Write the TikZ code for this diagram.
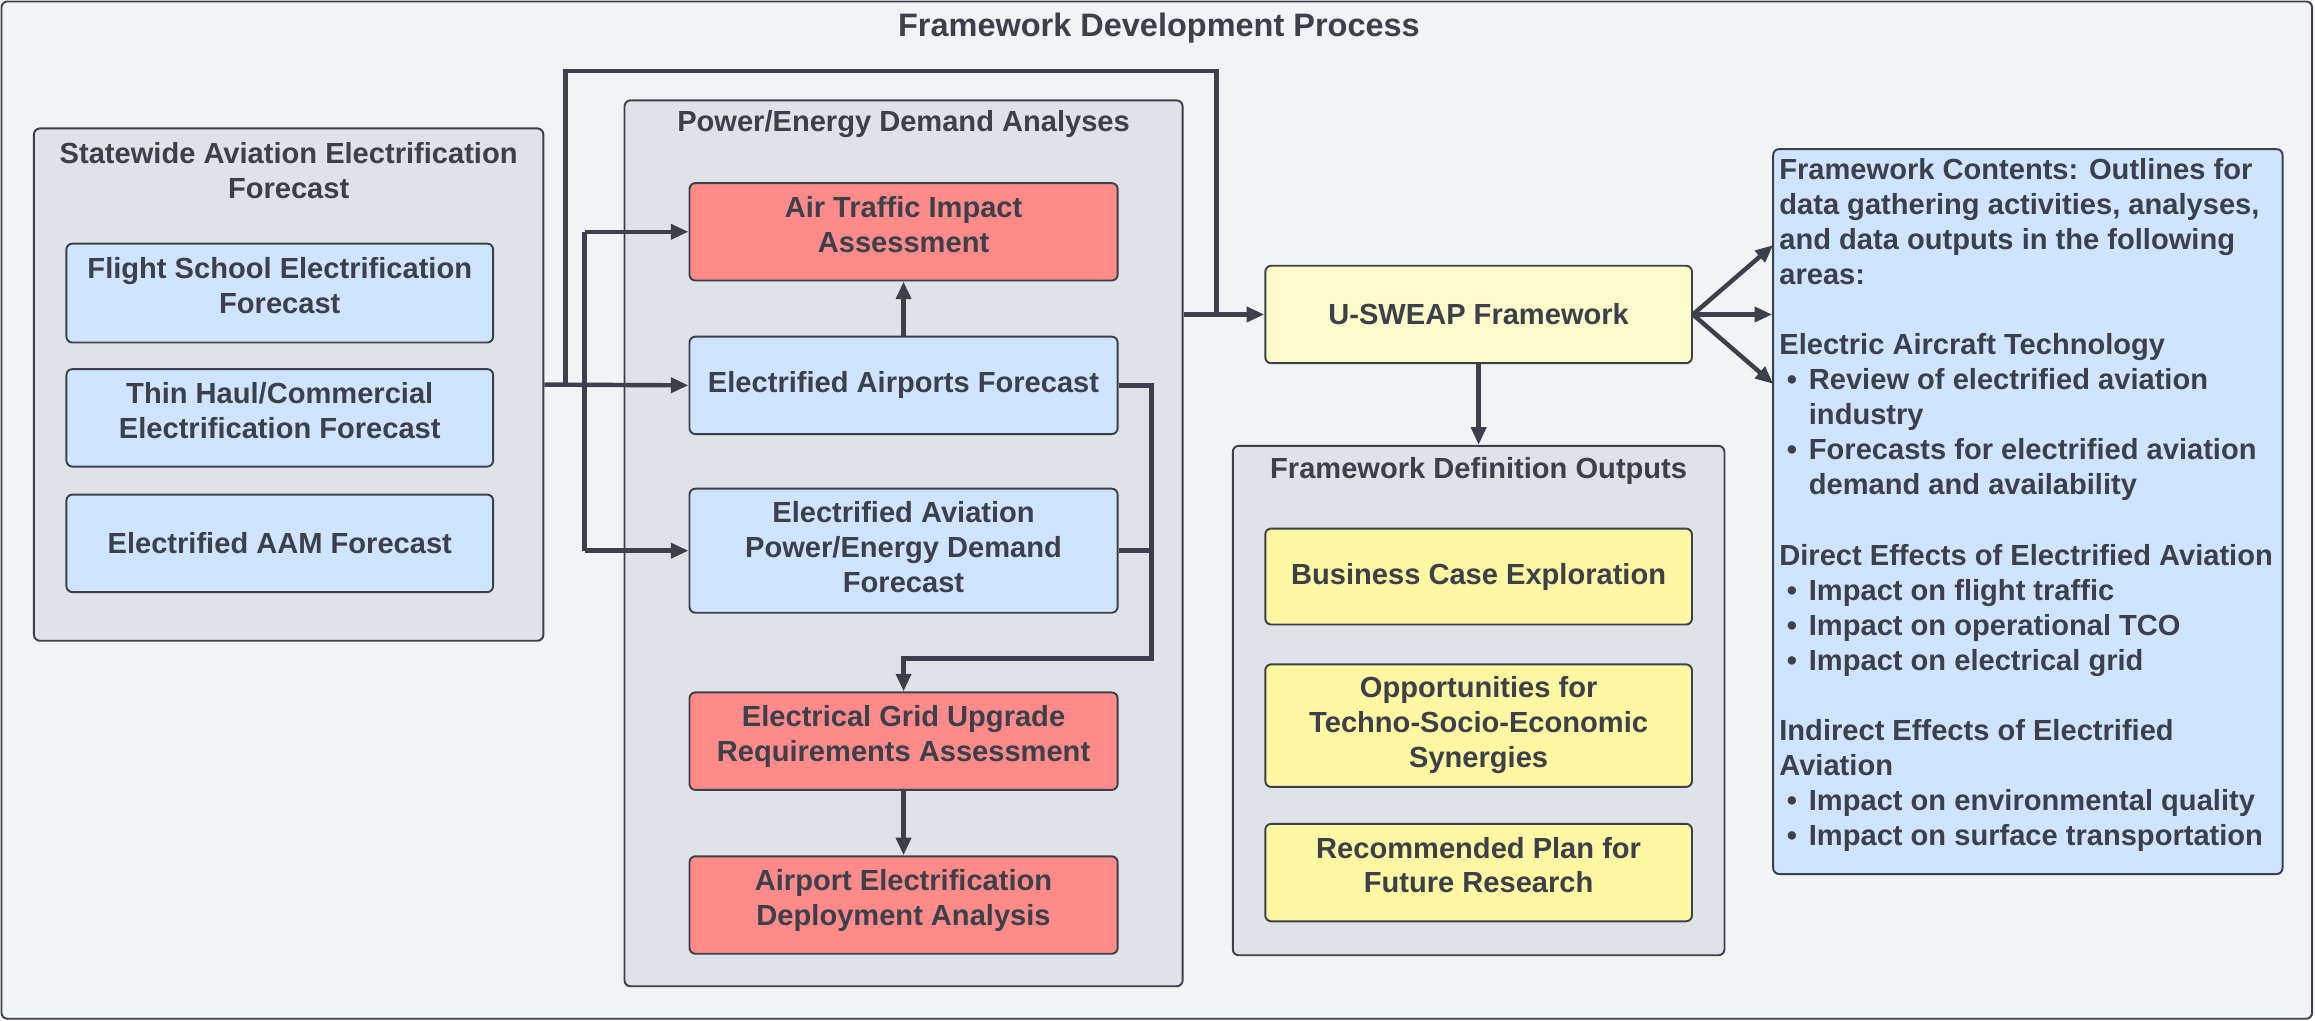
\documentclass[tikz,border=0pt]{standalone}
\usepackage{fontspec}
\setmainfont{Liberation Sans}
\usetikzlibrary{arrows.meta}
\definecolor{bgc}{HTML}{F2F3F5}
\definecolor{grpc}{HTML}{DFE2E6}
\definecolor{bluec}{HTML}{CFE4FF}
\definecolor{redc}{HTML}{FF8A8A}
\definecolor{ylightc}{HTML}{FDFBCA}
\definecolor{yellowc}{HTML}{FFF7A1}
\definecolor{strk}{HTML}{3B404A}
\newcommand{\myb}[1]{\hspace*{5pt}\makebox[15pt][l]{\textbullet}#1}
\newcommand{\myc}[1]{\hspace*{20pt}#1}
\begin{document}
\begin{tikzpicture}[x=1pt,y=-1pt,
  txtfont/.style={font={\fontsize{19.7pt}{23.6pt}\selectfont\bfseries}, text=strk},
  box/.style={draw=strk, line width=1.3pt, rounded corners=4pt, minimum width=290pt,
    minimum height=66pt, inner sep=0pt, align=center, txtfont},
  twoline/.style={text height=38pt, text depth=10.4pt},
  threeline/.style={text height=61.5pt, text depth=5.3pt},
  bluebox/.style={box, fill=bluec},
  redbox/.style={box, fill=redc},
  ybox/.style={box, fill=yellowc},
  group/.style={draw=strk, line width=1.3pt, rounded corners=4pt, fill=grpc, inner sep=0pt},
  gtitle/.style={txtfont, align=center, inner sep=0pt},
  conn/.style={draw=strk, line width=3pt},
  arr/.style={conn, -{Triangle[length=12pt,width=10pt]}}
]
\useasboundingbox (0,0) rectangle (1568,691.5);
\node[draw=strk, line width=1.3pt, rounded corners=4pt, fill=bgc, minimum width=1565pt, minimum height=689pt, inner sep=0pt] (outer) at (783.5,345.5) {};
\node[gtitle, font={\fontsize{22pt}{26pt}\selectfont\bfseries}] (title) at (785,19) {Framework Development Process};

% left group
\node[group, minimum width=345pt, minimum height=347pt] (g1) at (195.5,260.5) {};
\node[gtitle] (g1t) at (195.5,115.5) {Statewide Aviation Electrification\\Forecast};
\node[bluebox, twoline, minimum width=289pt, minimum height=67pt] (fsf) at (189.5,198.5) {Flight School Electrification\\Forecast};
\node[bluebox, twoline, minimum width=289pt] (thc) at (189.5,283) {Thin Haul/Commercial\\Electrification Forecast};
\node[bluebox, minimum width=289pt] (aam) at (189.5,368) {Electrified AAM Forecast};

% middle group
\node[group, minimum width=378pt, minimum height=600pt] (g2) at (612,368) {};
\node[gtitle] (g2t) at (612,84) {Power/Energy Demand Analyses};
\node[redbox, twoline] (ati) at (612,157) {Air Traffic Impact\\Assessment};
\node[bluebox] (eaf) at (612,261) {Electrified Airports Forecast};
\node[bluebox, threeline, minimum height=84pt] (pedf) at (612,373) {Electrified Aviation\\Power/Energy Demand\\Forecast};
\node[redbox, twoline] (egu) at (612,502) {Electrical Grid Upgrade\\Requirements Assessment};
\node[redbox, twoline] (dea) at (612,613) {Airport Electrification\\Deployment Analysis};

% U-SWEAP
\node[box, fill=ylightc, minimum width=289pt] (usw) at (1001.5,213) {U-SWEAP Framework};

% outputs group
\node[group, minimum width=333pt, minimum height=345pt] (g3) at (1001.5,474.5) {};
\node[gtitle] (g3t) at (1001.5,319) {Framework Definition Outputs};
\node[ybox, minimum width=289pt, minimum height=65pt] (bce) at (1001.5,390.5) {Business Case Exploration};
\node[ybox, threeline, minimum width=289pt, minimum height=83pt] (ots) at (1001.5,491.5) {Opportunities for\\Techno-Socio-Economic\\Synergies};
\node[ybox, twoline, minimum width=289pt] (rpf) at (1001.5,591) {Recommended Plan for\\Future Research};

% framework contents
\node[box, fill=bluec, minimum width=345pt, minimum height=491pt] (fc) at (1373.5,346.5) {};
\node[text=strk, font={\fontsize{19.7pt}{23.75pt}\selectfont\bfseries}, anchor=north west, align=left, inner sep=0pt] (fct) at (1205,107) {%
Framework Contents: Outlines for\\
data gathering activities, analyses,\\
and data outputs in the following\\
areas:\\
\mbox{}\\
Electric Aircraft Technology\\
\myb{Review of electrified aviation}\\
\myc{industry}\\
\myb{Forecasts for electrified aviation}\\
\myc{demand and availability}\\
\mbox{}\\
Direct Effects of Electrified Aviation\\
\myb{Impact on flight traffic}\\
\myb{Impact on operational TCO}\\
\myb{Impact on electrical grid}\\
\mbox{}\\
Indirect Effects of Electrified\\
Aviation\\
\myb{Impact on environmental quality}\\
\myb{Impact on surface transportation}};

% connectors
\coordinate (j1) at (383,261);
\coordinate (t1) at (383,48);
\coordinate (t2) at (824,48);
\coordinate (j2) at (824,213);
\coordinate (bx) at (396,261);
\coordinate (m1) at (780,446);
\coordinate (fa1) at (1201,166);
\coordinate (fa3) at (1201,260);

\draw[arr] (g1.east) -- (eaf.west);
\draw[conn] (j1) -- (t1) -- (t2) -- (j2);
\draw[arr] (g2.east |- j2) -- (usw.west);
\draw[conn] (bx |- ati.west) -- (bx |- pedf.west);
\draw[arr] (bx |- ati.west) -- (ati.west);
\draw[arr] (bx |- pedf.west) -- (pedf.west);
\draw[arr] (eaf.north) -- (ati.south);
\draw[arr] (eaf.east) -| (m1) -| (egu.north);
\draw[conn] (pedf.east) -- (pedf.east -| m1);
\draw[arr] (egu.south) -- (dea.north);
\draw[arr] (usw.south) -- (g3.north);
\draw[arr] (usw.east) -- (fa1);
\draw[arr] (usw.east) -- (fc.west |- usw.east);
\draw[arr] (usw.east) -- (fa3);
\end{tikzpicture}
\end{document}
